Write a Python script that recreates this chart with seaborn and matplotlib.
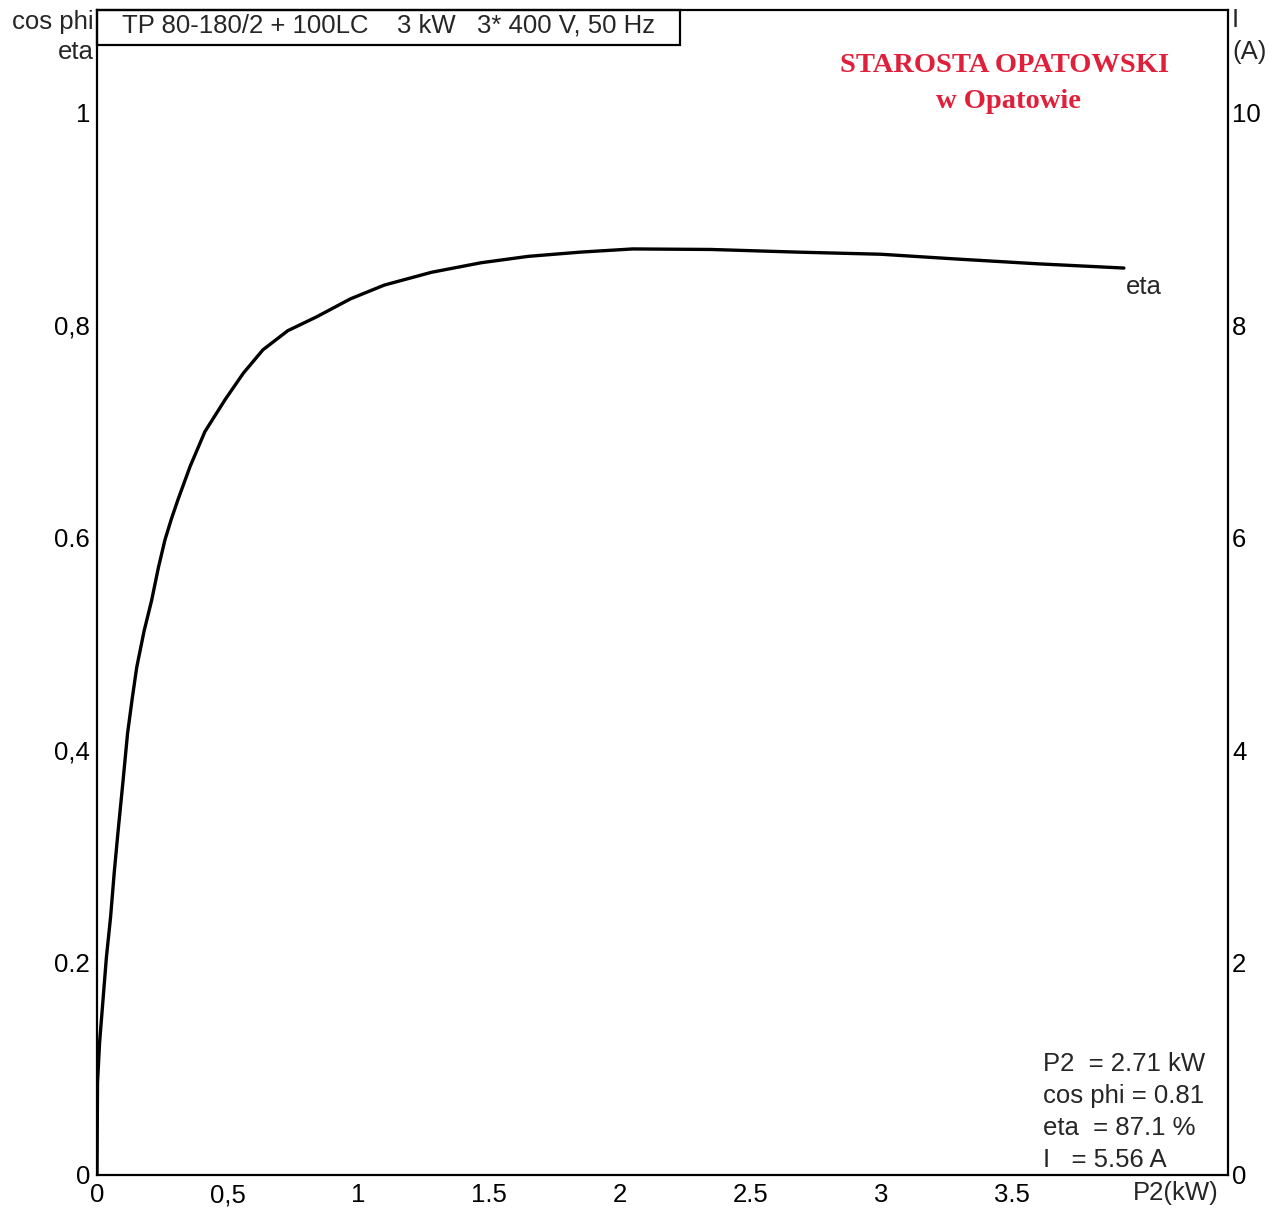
import matplotlib
matplotlib.use("Agg")
import matplotlib.pyplot as plt
from matplotlib.patches import Rectangle
import seaborn as sns
import pandas as pd

# ---- data ----
p2_kw = [0.0, 0.002, 0.01, 0.023, 0.036, 0.052, 0.066, 0.08, 0.1, 0.117, 0.135,
         0.152, 0.18, 0.209, 0.235, 0.26, 0.285, 0.31, 0.356, 0.413, 0.49, 0.56,
         0.635, 0.73, 0.84, 0.97, 1.1, 1.28, 1.47, 1.65, 1.85, 2.05, 2.35, 2.68,
         3.0, 3.29, 3.6, 3.93]
eta = [0.0, 0.087, 0.125, 0.165, 0.205, 0.243, 0.285, 0.322, 0.372, 0.416, 0.449,
       0.478, 0.512, 0.541, 0.572, 0.598, 0.618, 0.636, 0.667, 0.70, 0.73, 0.755,
       0.777, 0.795, 0.808, 0.825, 0.838, 0.85, 0.859, 0.865, 0.869, 0.872, 0.8715,
       0.869, 0.867, 0.8625, 0.858, 0.854]

x_ticks = [0, 0.5, 1, 1.5, 2, 2.5, 3, 3.5]
x_tick_labels = ["0", "0,5", "1", "1.5", "2", "2.5", "3", "3.5"]
y_ticks = [0, 0.2, 0.4, 0.6, 0.8, 1.0]
y_tick_labels = ["0", "0.2", "0,4", "0.6", "0,8", "1"]
i_ticks = [0, 2, 4, 6, 8, 10]
i_tick_labels = ["0", "2", "4", "6", "8", "10"]

title_text = "TP 80-180/2 + 100LC    3 kW   3* 400 V, 50 Hz"
info_lines = ["P2  = 2.71 kW", "cos phi = 0.81", "eta  = 87.1 %", "I   = 5.56 A"]
stamp_lines = ["STAROSTA OPATOWSKI", "w Opatowie"]

df = pd.DataFrame({"P2": p2_kw, "eta": eta})

sns.set_style("white")
plt.rcParams["font.family"] = ["Liberation Sans", "DejaVu Sans"]

FS = 18.5
W, H = 1274, 1208
fig = plt.figure(figsize=(W / 100, H / 100), dpi=100)
L, R, B, T = 97, 1228, 1175, 10
ax = fig.add_axes([L / W, (H - B) / H, (R - L) / W, (B - T) / H])

sns.lineplot(data=df, x="P2", y="eta", ax=ax, color="black", linewidth=2.4,
             estimator=None, sort=False)

ax.set_xlim(0, (R - L) / 261.3)
ax.set_ylim(0, (B - T) / 1062.0)
ax.set_xticks(x_ticks)
ax.set_xticklabels(x_tick_labels)
ax.set_yticks(y_ticks)
ax.set_yticklabels(y_tick_labels)
ax.set_xlabel("")
ax.set_ylabel("")
ax.tick_params(axis="both", length=0, labelsize=FS, colors="black")
ax.tick_params(axis="x", pad=6)
ax.tick_params(axis="y", pad=5)
for s in ax.spines.values():
    s.set_visible(True)
    s.set_color("black")
    s.set_linewidth(1.6)

ax2 = ax.twinx()
ax2.set_ylim(0, ax.get_ylim()[1] * 10)
ax2.set_yticks(i_ticks)
ax2.set_yticklabels(i_tick_labels)
ax2.tick_params(axis="y", length=0, labelsize=FS, pad=3, colors="black")
for s in ax2.spines.values():
    s.set_visible(False)

# title box
bx = (680 - L) / (R - L)
by = (B - 45) / (B - T)
ax.add_patch(Rectangle((0, by), bx, 1 - by, transform=ax.transAxes,
                       fill=False, edgecolor="black", linewidth=1.6, clip_on=False))
ax.text((122 - L) / (R - L), (B - 25) / (B - T), title_text, transform=ax.transAxes,
        fontsize=FS, va="center", ha="left")

# axis captions
fig.text(94 / W, 1 - 22 / H, "cos phi", fontsize=FS, ha="right", va="center")
fig.text(94 / W, 1 - 52 / H, "eta", fontsize=FS, ha="right", va="center")
fig.text(1232 / W, 1 - 20 / H, "I", fontsize=FS, ha="left", va="center")
fig.text(1232 / W, 1 - 52 / H, "(A)", fontsize=FS, ha="left", va="center")
fig.text(1219 / W, 1 - 1193 / H, "P2(kW)", fontsize=FS, ha="right", va="center")

# curve label
ax.text((1126 - L) / 261.3, (B - 287) / 1062.0, "eta", fontsize=FS, ha="left", va="center")

# info box text
for k, line in enumerate(info_lines):
    fig.text(1043 / W, 1 - (1064 + 32 * k) / H, line, fontsize=FS, ha="left", va="center")

# red stamp
fig.text(1005 / W, 1 - 65 / H, stamp_lines[0], fontsize=20.5, ha="center", va="center",
         color="#e0203a", family="Liberation Serif", fontweight="bold")
fig.text(1008 / W, 1 - 102 / H, stamp_lines[1], fontsize=20.5, ha="center", va="center",
         color="#e0203a", family="Liberation Serif", fontweight="bold")

fig.savefig("out.png", dpi=100, facecolor="white")
